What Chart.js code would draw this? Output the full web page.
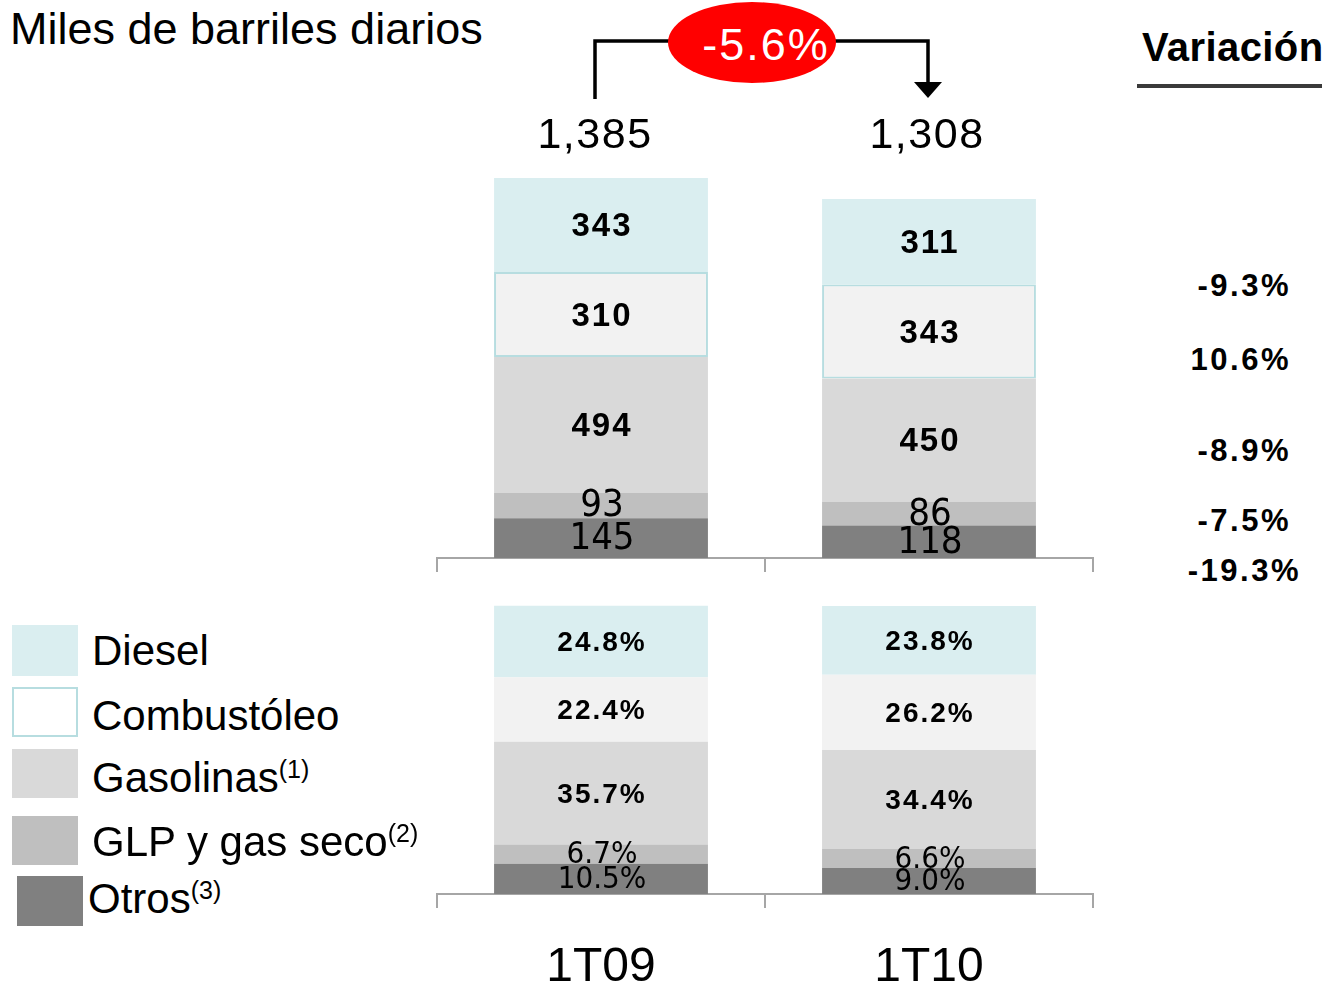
<!DOCTYPE html>
<html lang="es">
<head>
<meta charset="utf-8">
<title>Miles de barriles diarios</title>
<script src="https://cdn.jsdelivr.net/npm/chart.js@4.4.1/dist/chart.umd.min.js"></script>
<style>
  html, body { margin: 0; padding: 0; background: #fff; }
  body { width: 1322px; height: 988px; position: relative; overflow: hidden;
         font-family: 'Liberation Sans', Arial, sans-serif; color: #000; }
  .abs { position: absolute; white-space: nowrap; line-height: 1; }
  canvas { position: absolute; }
  #title { left: 10px; top: 6px; font-size: 45px; }
  #varHead { left: 1142px; top: 27px; font-size: 40px; font-weight: bold; letter-spacing: 0.4px; }
  #varLine { position: absolute; left: 1137px; top: 84px; width: 185px; height: 4px; background: #3a3a3a; }
  .var { font-size: 31px; font-weight: bold; letter-spacing: 2.5px; text-align: right; }
  .total { font-size: 43px; letter-spacing: 1.5px; width: 200px; text-align: center; }
  .box { position: absolute; box-sizing: border-box; }
  .leg { font-size: 42px; }
  .leg sup { font-size: 25px; vertical-align: 14px; line-height: 1; }
  #top { left: 417px; top: 120px; }
  #bottom { left: 417px; top: 590px; }
</style>
</head>
<body>

<div id="title" class="abs">Miles de barriles diarios</div>

<svg class="abs" style="left:0;top:0" width="1322" height="110">
  <path d="M595 99 V41 H928 V83" fill="none" stroke="#000" stroke-width="3.5"/>
  <polygon points="914,82 942,82 928,98" fill="#000"/>
  <ellipse cx="752" cy="42.5" rx="84" ry="40.5" fill="#ff0000"/>
  <text id="changeText" x="766" y="59.5" text-anchor="middle" fill="#fff"
        font-family="Liberation Sans, Arial, sans-serif" font-size="45" letter-spacing="2"></text>
</svg>

<div id="varHead" class="abs">Variación</div>
<div id="varLine"></div>

<canvas id="top" width="696" height="470"></canvas>
<canvas id="bottom" width="696" height="398"></canvas>

<script>
'use strict';

let periods = ['1T09', '1T10'];
let products = ['Diesel', 'Combustóleo', 'Gasolinas', 'GLP y gas seco', 'Otros'];
let notes = ['', '', '(1)', '(2)', '(3)'];
let volume1T09 = [343, 310, 494, 93, 145];
let volume1T10 = [311, 343, 450, 86, 118];
let share1T09 = [24.8, 22.4, 35.7, 6.7, 10.5];
let share1T10 = [23.8, 26.2, 34.4, 6.6, 9.0];
let variation = [-9.3, 10.6, -8.9, -7.5, -19.3];
let totalChange = -5.6;

let colors = ['#daeef0', '#f2f2f2', '#d9d9d9', '#bfbfbf', '#808080'];
let narrow = '"Liberation Sans Narrow", "DejaVu Sans Condensed", "Liberation Sans", sans-serif';
let regular = '"Liberation Sans", Arial, sans-serif';

// totals and change
let sum = (arr) => arr.reduce((a, b) => a + b, 0);
let totals = [sum(volume1T09), sum(volume1T10)];
let totalX = [595, 927];
for (let i = 0; i < totals.length; i++) {
  let d = document.createElement('div');
  d.className = 'abs total';
  d.style.left = (totalX[i] - 100) + 'px';
  d.style.top = '112px';
  d.textContent = totals[i].toLocaleString('en-US');
  document.body.appendChild(d);
}
document.getElementById('changeText').textContent = totalChange.toFixed(1) + '%';

// variation column
let varY = [285, 359, 450, 520, 570];
let varRight = [1289, 1289, 1289, 1289, 1299];
for (let i = 0; i < variation.length; i++) {
  let d = document.createElement('div');
  d.className = 'abs var';
  d.style.right = (1322 - varRight[i] - 2) + 'px';
  d.style.top = (varY[i] - 15) + 'px';
  d.textContent = variation[i].toFixed(1) + '%';
  document.body.appendChild(d);
}

// legend
let boxes = [
  [12, 625, 66, 51], [12, 687, 66, 50], [12, 749, 66, 49], [12, 816, 66, 49], [17, 876, 66, 50]
];
let legY = [630, 695, 757, 821, 878];
let legX = [92, 92, 92, 92, 88];
for (let i = 0; i < products.length; i++) {
  let b = document.createElement('div');
  b.className = 'box';
  b.style.left = boxes[i][0] + 'px';
  b.style.top = boxes[i][1] + 'px';
  b.style.width = boxes[i][2] + 'px';
  b.style.height = boxes[i][3] + 'px';
  if (i === 1) {
    b.style.background = '#fff';
    b.style.border = '2px solid #b7dde0';
  } else {
    b.style.background = colors[i];
  }
  document.body.appendChild(b);

  let t = document.createElement('div');
  t.className = 'abs leg';
  t.style.left = legX[i] + 'px';
  t.style.top = legY[i] + 'px';
  t.textContent = products[i];
  if (notes[i]) {
    let s = document.createElement('sup');
    s.textContent = notes[i];
    t.appendChild(s);
  }
  document.body.appendChild(t);
}

// labels inside the bar segments
let segmentLabels = {
  id: 'segmentLabels',
  afterDatasetsDraw(chart) {
    let ctx = chart.ctx;
    chart.data.datasets.forEach((ds, di) => {
      let meta = chart.getDatasetMeta(di);
      meta.data.forEach((bar, j) => {
        let v = ds.data[j];
        ctx.save();
        ctx.font = ds.labelFont;
        ctx.letterSpacing = ds.labelSpacing || '0px';
        ctx.fillStyle = '#000';
        ctx.textAlign = 'center';
        ctx.textBaseline = 'middle';
        ctx.fillText(ds.format(v), bar.x + 1, (bar.y + bar.base) / 2 + ds.labelShift);
        ctx.restore();
      });
    });
  }
};

function makeDatasets(a, b, isShare) {
  let sets = [];
  for (let i = products.length - 1; i >= 0; i--) {
    let small = i >= 3;
    sets.push({
      label: products[i],
      data: [a[i], b[i]],
      backgroundColor: colors[i],
      borderColor: '#b7dde0',
      borderWidth: (!isShare && i === 1) ? 2 : 0,
      borderSkipped: false,
      barPercentage: 0.652,
      categoryPercentage: 1,
      labelFont: small
        ? (isShare ? '31px ' + narrow : '38px ' + narrow)
        : (isShare ? 'bold 28px ' + regular : 'bold 33px ' + regular),
      labelSpacing: small ? '0px' : '2px',
      labelShift: small ? 1 : 2,
      format: isShare ? (v) => v.toFixed(1) + '%' : (v) => String(v)
    });
  }
  return sets;
}

function xAxis(height, showLabels) {
  return {
    stacked: true,
    afterFit(scale) { scale.height = height; },
    grid: { offset: true, drawOnChartArea: false, drawTicks: true, tickLength: 14,
            color: '#a6a6a6', lineWidth: 2 },
    border: { display: true, color: '#a6a6a6', width: 2 },
    ticks: { display: showLabels, color: '#000', padding: 31,
             font: { family: regular, size: 48 } }
  };
}

function baseOptions(yMax, xHeight, showLabels) {
  return {
    responsive: false,
    animation: false,
    layout: { padding: { left: 20, right: 20, top: 0, bottom: 0 } },
    plugins: { legend: { display: false }, tooltip: { enabled: false } },
    scales: {
      x: xAxis(xHeight, showLabels),
      y: { stacked: true, display: false, min: 0, max: yMax }
    }
  };
}

new Chart(document.getElementById('top').getContext('2d'), {
  type: 'bar',
  data: { labels: periods, datasets: makeDatasets(volume1T09, volume1T10, false) },
  options: baseOptions(1596, 32, false),
  plugins: [segmentLabels]
});

new Chart(document.getElementById('bottom').getContext('2d'), {
  type: 'bar',
  data: { labels: periods, datasets: makeDatasets(share1T09, share1T10, true) },
  options: baseOptions(105.6, 94, true),
  plugins: [segmentLabels]
});
</script>
</body>
</html>
